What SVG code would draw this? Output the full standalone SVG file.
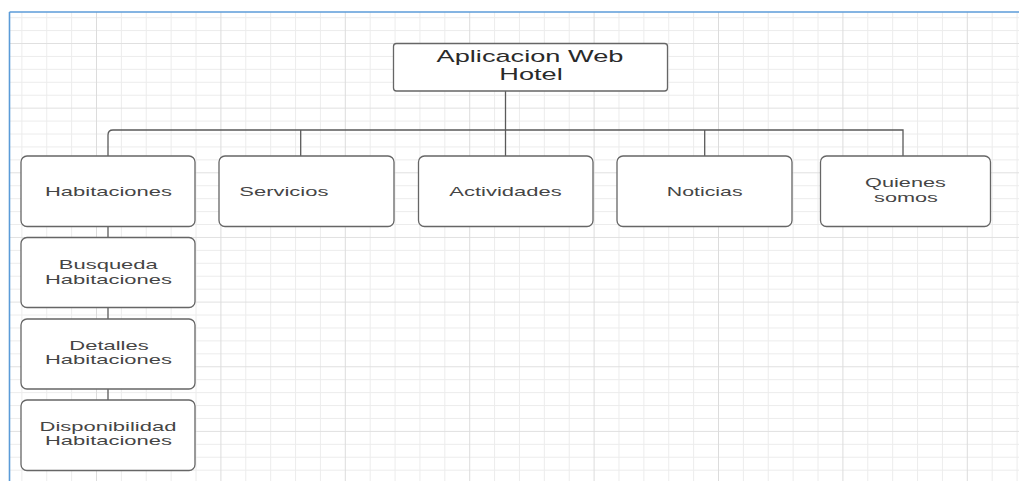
<svg xmlns="http://www.w3.org/2000/svg" width="1019" height="481" viewBox="0 0 1019 481">
  <style>
    .box { fill: #ffffff; stroke: #666666; stroke-width: 1.3; }
    .lbl { font-family: "Liberation Sans", Arial, sans-serif; font-size: 13px; fill: #454545; text-anchor: middle; }
    .lbl-s { font-family: "Liberation Sans", Arial, sans-serif; font-size: 13px; fill: #454545; text-anchor: start; }
    .ttl { font-family: "Liberation Sans", Arial, sans-serif; font-size: 16px; fill: #2a2a2a; text-anchor: middle; }
    .conn { fill: none; stroke: #5a5a5a; stroke-width: 1.3; }
  </style>
  <defs>
    <pattern id="grid" patternUnits="userSpaceOnUse" x="96" y="43" width="124.4" height="64.65">
      <rect x="24.88" y="0" width="1" height="64.65" fill="#ececec"/>
      <rect x="49.76" y="0" width="1" height="64.65" fill="#ececec"/>
      <rect x="74.64" y="0" width="1" height="64.65" fill="#ececec"/>
      <rect x="99.52" y="0" width="1" height="64.65" fill="#ececec"/>
      <rect x="0" y="12.93" width="124.4" height="1" fill="#ececec"/>
      <rect x="0" y="25.86" width="124.4" height="1" fill="#ececec"/>
      <rect x="0" y="38.79" width="124.4" height="1" fill="#ececec"/>
      <rect x="0" y="51.72" width="124.4" height="1" fill="#ececec"/>
      <rect x="0" y="0" width="124.4" height="1" fill="#e0e0e0"/>
      <rect x="0" y="0" width="1" height="64.65" fill="#dcdcdc"/>
    </pattern>
  </defs>

  <rect x="0" y="0" width="1019" height="481" fill="#ffffff"/>
  <rect x="10" y="12" width="1009" height="469" fill="url(#grid)"/>
  <g id="frame" fill="none" stroke="#5b9bd8" stroke-width="1.6">
    <line x1="9.5" y1="12" x2="1019" y2="12"/>
    <line x1="9.5" y1="12" x2="9.5" y2="481"/>
  </g>

  <g id="connectors">
    <line class="conn" x1="505.5" y1="91" x2="505.5" y2="156"/>
    <path class="conn" d="M108 156 V135 Q108 130 113 130 H903 V156"/>
    <line class="conn" x1="300.7" y1="130" x2="300.7" y2="156"/>
    <line class="conn" x1="704.7" y1="130" x2="704.7" y2="156"/>
    <line class="conn" x1="108" y1="226" x2="108" y2="237"/>
    <line class="conn" x1="108" y1="308" x2="108" y2="319"/>
    <line class="conn" x1="108" y1="389" x2="108" y2="400"/>
  </g>

  <g id="node-root">
    <rect class="box" x="393.5" y="43.5" width="274" height="47.5" rx="3"/>
    <text class="ttl" transform="translate(530 61.5) scale(1.7 1)">Aplicacion Web</text>
    <text class="ttl" transform="translate(531 79.6) scale(1.7 1)">Hotel</text>
  </g>

  <g id="node-habitaciones">
    <rect class="box" x="21" y="156" width="174" height="70.5" rx="6"/>
    <text class="lbl" transform="translate(108.5 195.5) scale(1.69 1)">Habitaciones</text>
  </g>

  <g id="node-servicios">
    <rect class="box" x="219" y="156" width="175" height="70.5" rx="6"/>
    <text class="lbl-s" transform="translate(239.3 195.5) scale(1.69 1)">Servicios</text>
  </g>

  <g id="node-actividades">
    <rect class="box" x="418.5" y="156" width="174.5" height="70.5" rx="6"/>
    <text class="lbl" transform="translate(505.5 195.5) scale(1.69 1)">Actividades</text>
  </g>

  <g id="node-noticias">
    <rect class="box" x="617" y="156" width="175" height="70.5" rx="6"/>
    <text class="lbl" transform="translate(704.7 195.5) scale(1.64 1)">Noticias</text>
  </g>

  <g id="node-quienes">
    <rect class="box" x="820.5" y="156" width="170" height="70.5" rx="6"/>
    <text class="lbl" transform="translate(905.5 187) scale(1.67 1)">Quienes</text>
    <text class="lbl" transform="translate(906 201.7) scale(1.67 1)">somos</text>
  </g>

  <g id="node-busqueda">
    <rect class="box" x="21" y="237.5" width="174" height="70" rx="6"/>
    <text class="lbl" transform="translate(108.3 268.8) scale(1.69 1)">Busqueda</text>
    <text class="lbl" transform="translate(108.5 283.5) scale(1.69 1)">Habitaciones</text>
  </g>

  <g id="node-detalles">
    <rect class="box" x="21" y="319" width="174" height="70" rx="6"/>
    <text class="lbl" transform="translate(109 349.6) scale(1.69 1)">Detalles</text>
    <text class="lbl" transform="translate(108.5 364.3) scale(1.69 1)">Habitaciones</text>
  </g>

  <g id="node-disponibilidad">
    <rect class="box" x="21" y="400" width="174" height="70.5" rx="6"/>
    <text class="lbl" transform="translate(108 430.6) scale(1.69 1)">Disponibilidad</text>
    <text class="lbl" transform="translate(108.5 445.3) scale(1.69 1)">Habitaciones</text>
  </g>
</svg>
